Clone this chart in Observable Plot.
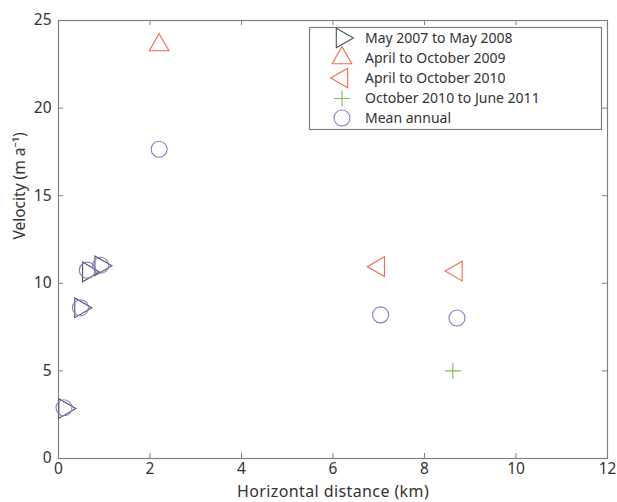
<!DOCTYPE html>
<html>
<head>
<meta charset="utf-8">
<script src="https://cdn.jsdelivr.net/npm/d3@7"></script>
<script src="https://cdn.jsdelivr.net/npm/@observablehq/plot@0.6"></script>
<style>
  body { margin: 0; background: #fff; }
  #wrap { position: relative; width: 617px; height: 502px; font-family: "Noto Sans", sans-serif; }
  #legend { position: absolute; left: 0; top: 0; }
  .xlabel text { letter-spacing: 0.4px; }
</style>
</head>
<body>
<div id="wrap"></div>
<script>
// ---- data ----
const x2008 = [0.13, 0.48, 0.65, 0.92];
const v2008 = [2.85, 8.6, 10.65, 11.0];
const x2009 = [2.2];
const v2009 = [23.6];
const x2010 = [7.0, 8.7];
const v2010 = [10.95, 10.7];
const x2011 = [8.62];
const v2011 = [5.0];
const xMean = [0.12, 0.48, 0.63, 0.92, 2.2, 7.04, 8.71];
const vMean = [2.9, 8.6, 10.75, 11.03, 17.65, 8.2, 8.02];
const xTicks = [0, 2, 4, 6, 8, 10, 12];
const yTicks = [0, 5, 10, 15, 20, 25];
const seriesNames = ["May 2007 to May 2008", "April to October 2009", "April to October 2010", "October 2010 to June 2011", "Mean annual"];
const seriesColors = ["#555555", "#f26a4f", "#f26a4f", "#7cbd4f", "#7f7fcc"];

// ---- custom symbols (scaled from Plot's size = pi r^2) ----
const K = 1.42;
function tri(angle) {
  return {
    draw(ctx, size) {
      const R = Math.sqrt(size / Math.PI) * K;
      for (let i = 0; i < 3; i++) {
        const a = angle + i * 2 * Math.PI / 3;
        const px = R * Math.cos(a), py = R * Math.sin(a);
        if (i === 0) ctx.moveTo(px, py); else ctx.lineTo(px, py);
      }
      ctx.closePath();
    }
  };
}
const triUp = tri(-Math.PI / 2);
const triRight = tri(0);
const triLeft = tri(Math.PI);
const plusSym = {
  draw(ctx, size) {
    const h = Math.sqrt(size / Math.PI) * 1.0;
    ctx.moveTo(-h, 0); ctx.lineTo(h, 0);
    ctx.moveTo(0, -h); ctx.lineTo(0, h);
  }
};
const circSym = {
  draw(ctx, size) {
    const r = Math.sqrt(size / Math.PI);
    ctx.moveTo(r, 0); ctx.arc(0, 0, r, 0, 2 * Math.PI);
  }
};
const seriesSymbols = [triRight, triUp, triLeft, plusSym, circSym];

const W = 617, H = 502;
const mL = 58, mR = 10, mT = 20, mB = 44;
const pw = W - mL - mR, ph = H - mT - mB;
const frameColor = "#808080";

function pts(xs, vs) { return xs.map((x, i) => ({x, v: vs[i]})); }

const chart = Plot.plot({
  width: W, height: H,
  marginLeft: mL, marginRight: mR, marginTop: mT, marginBottom: mB,
  style: {fontFamily: "Noto Sans, sans-serif", fontSize: "15px", color: "#333", background: "#fff", overflow: "visible"},
  x: {domain: [0, 12], ticks: xTicks, label: null},
  y: {domain: [0, 25], ticks: yTicks, label: null},
  marks: [
    Plot.frame({stroke: frameColor, strokeWidth: 1.2}),
    // inward ticks on all four sides
    Plot.tickX(xTicks, {x: d => d, stroke: frameColor, insetTop: ph - 5}),
    Plot.tickX(xTicks, {x: d => d, stroke: frameColor, insetBottom: ph - 5}),
    Plot.tickY(yTicks, {y: d => d, stroke: frameColor, insetRight: pw - 5}),
    Plot.tickY(yTicks, {y: d => d, stroke: frameColor, insetLeft: pw - 5}),
    Plot.axisX({ticks: xTicks, tickSize: 0, tickPadding: 4, fontSize: 15.5, fill: "#333", label: null}),
    Plot.axisY({ticks: yTicks, tickSize: 0, tickPadding: 7, fontSize: 15.5, fill: "#333", label: null}),
    Plot.dot(pts(x2008, v2008), {x: "x", y: "v", r: 8, symbol: triRight, stroke: seriesColors[0], strokeWidth: 1.1}),
    Plot.dot(pts(x2009, v2009), {x: "x", y: "v", r: 8, symbol: triUp, stroke: seriesColors[1], strokeWidth: 1.1}),
    Plot.dot(pts(x2010, v2010), {x: "x", y: "v", r: 8, symbol: triLeft, stroke: seriesColors[2], strokeWidth: 1.1}),
    Plot.dot(pts(x2011, v2011), {x: "x", y: "v", r: 8, symbol: plusSym, stroke: seriesColors[3], strokeWidth: 1.1}),
    Plot.dot(pts(xMean, vMean), {x: "x", y: "v", r: 8, symbol: circSym, stroke: seriesColors[4], strokeWidth: 1.1}),
    Plot.text(["Horizontal distance (km)"], {frameAnchor: "bottom", dy: 38, fontSize: 16, fill: "#333", text: d => d, className: "xlabel"}),
    Plot.text(["Velocity (m a\u207B\u00B9)"], {frameAnchor: "left", dx: -38, rotate: -90, fontSize: 15.5, fill: "#333", text: d => d})
  ]
});

const wrap = document.getElementById("wrap");
wrap.appendChild(chart);

// ---- legend overlay ----
const lg = d3.select(wrap).append("svg")
  .attr("id", "legend").attr("width", W).attr("height", H);
lg.append("rect").attr("x", 309.5).attr("y", 27.5).attr("width", 292).attr("height", 102)
  .attr("fill", "#fff").attr("stroke", frameColor).attr("stroke-width", 1.2);
const rowY = [38, 58, 78, 98.5, 118];
seriesNames.forEach((name, i) => {
  lg.append("path")
    .attr("d", d3.symbol(seriesSymbols[i], Math.PI * 64)())
    .attr("transform", `translate(342,${rowY[i]})`)
    .attr("fill", "none").attr("stroke", seriesColors[i]).attr("stroke-width", 1.1);
  lg.append("text").attr("x", 365).attr("y", rowY[i]).attr("dy", "0.35em")
    .attr("font-family", "Noto Sans, sans-serif").attr("font-size", 14).attr("fill", "#333")
    .text(name);
});
</script>
</body>
</html>
